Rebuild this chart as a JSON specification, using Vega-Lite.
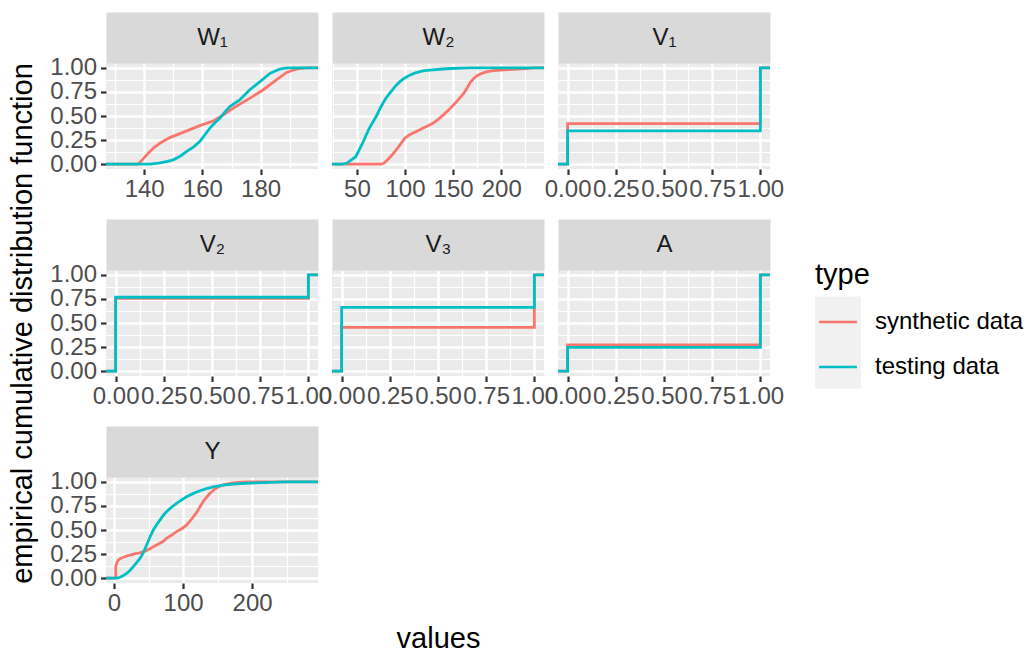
{
  "$schema": "https://vega.github.io/schema/vega-lite/v6.json",
  "background": "white",
  "padding": {"left": 8, "top": 25, "right": 0, "bottom": 0},
  "data": {"values": [
    {"v":"W1","t":"synthetic data","x":126.9,"y":0},{"v":"W1","t":"synthetic data","x":137.9,"y":0},{"v":"W1","t":"synthetic data","x":139.5,"y":0.05},{"v":"W1","t":"synthetic data","x":141.9,"y":0.13},{"v":"W1","t":"synthetic data","x":143.5,"y":0.175},{"v":"W1","t":"synthetic data","x":145.4,"y":0.217},{"v":"W1","t":"synthetic data","x":148.8,"y":0.276},{"v":"W1","t":"synthetic data","x":153.4,"y":0.33},{"v":"W1","t":"synthetic data","x":159.1,"y":0.4},{"v":"W1","t":"synthetic data","x":163.7,"y":0.448},{"v":"W1","t":"synthetic data","x":167.1,"y":0.51},{"v":"W1","t":"synthetic data","x":170.5,"y":0.58},{"v":"W1","t":"synthetic data","x":176.2,"y":0.683},{"v":"W1","t":"synthetic data","x":180.8,"y":0.77},{"v":"W1","t":"synthetic data","x":185.4,"y":0.876},{"v":"W1","t":"synthetic data","x":188.8,"y":0.95},{"v":"W1","t":"synthetic data","x":191,"y":0.975},{"v":"W1","t":"synthetic data","x":193.4,"y":0.993},{"v":"W1","t":"synthetic data","x":196,"y":1},{"v":"W1","t":"synthetic data","x":199.7,"y":1},
    {"v":"W1","t":"testing data","x":126.9,"y":0},{"v":"W1","t":"testing data","x":141.9,"y":0},{"v":"W1","t":"testing data","x":145,"y":0.01},{"v":"W1","t":"testing data","x":148,"y":0.03},{"v":"W1","t":"testing data","x":150,"y":0.045},{"v":"W1","t":"testing data","x":152.5,"y":0.085},{"v":"W1","t":"testing data","x":154.5,"y":0.13},{"v":"W1","t":"testing data","x":157,"y":0.18},{"v":"W1","t":"testing data","x":159.1,"y":0.235},{"v":"W1","t":"testing data","x":160.5,"y":0.29},{"v":"W1","t":"testing data","x":162.5,"y":0.372},{"v":"W1","t":"testing data","x":164.3,"y":0.43},{"v":"W1","t":"testing data","x":166,"y":0.476},{"v":"W1","t":"testing data","x":167.7,"y":0.54},{"v":"W1","t":"testing data","x":169.4,"y":0.597},{"v":"W1","t":"testing data","x":172.8,"y":0.666},{"v":"W1","t":"testing data","x":176.2,"y":0.77},{"v":"W1","t":"testing data","x":179.7,"y":0.855},{"v":"W1","t":"testing data","x":181.5,"y":0.9},{"v":"W1","t":"testing data","x":183.1,"y":0.94},{"v":"W1","t":"testing data","x":184.8,"y":0.965},{"v":"W1","t":"testing data","x":186.5,"y":0.986},{"v":"W1","t":"testing data","x":188.5,"y":0.996},{"v":"W1","t":"testing data","x":190,"y":1},{"v":"W1","t":"testing data","x":199.7,"y":1},
    {"v":"W2","t":"synthetic data","x":24.1,"y":0},{"v":"W2","t":"synthetic data","x":75.2,"y":0},{"v":"W2","t":"synthetic data","x":78,"y":0.01},{"v":"W2","t":"synthetic data","x":82.2,"y":0.048},{"v":"W2","t":"synthetic data","x":86.5,"y":0.095},{"v":"W2","t":"synthetic data","x":91,"y":0.15},{"v":"W2","t":"synthetic data","x":95.5,"y":0.21},{"v":"W2","t":"synthetic data","x":99.7,"y":0.27},{"v":"W2","t":"synthetic data","x":104,"y":0.3},{"v":"W2","t":"synthetic data","x":108.4,"y":0.323},{"v":"W2","t":"synthetic data","x":113.5,"y":0.348},{"v":"W2","t":"synthetic data","x":118.9,"y":0.375},{"v":"W2","t":"synthetic data","x":124,"y":0.4},{"v":"W2","t":"synthetic data","x":129.4,"y":0.426},{"v":"W2","t":"synthetic data","x":134.5,"y":0.465},{"v":"W2","t":"synthetic data","x":139.9,"y":0.512},{"v":"W2","t":"synthetic data","x":145,"y":0.56},{"v":"W2","t":"synthetic data","x":150.4,"y":0.615},{"v":"W2","t":"synthetic data","x":155.5,"y":0.67},{"v":"W2","t":"synthetic data","x":161,"y":0.735},{"v":"W2","t":"synthetic data","x":164.5,"y":0.79},{"v":"W2","t":"synthetic data","x":168,"y":0.85},{"v":"W2","t":"synthetic data","x":171.5,"y":0.89},{"v":"W2","t":"synthetic data","x":174.9,"y":0.918},{"v":"W2","t":"synthetic data","x":180,"y":0.943},{"v":"W2","t":"synthetic data","x":185.4,"y":0.96},{"v":"W2","t":"synthetic data","x":192,"y":0.97},{"v":"W2","t":"synthetic data","x":199.4,"y":0.976},{"v":"W2","t":"synthetic data","x":208,"y":0.982},{"v":"W2","t":"synthetic data","x":216.9,"y":0.986},{"v":"W2","t":"synthetic data","x":226,"y":0.992},{"v":"W2","t":"synthetic data","x":234.4,"y":1},{"v":"W2","t":"synthetic data","x":244.5,"y":1},
    {"v":"W2","t":"testing data","x":24.1,"y":0},{"v":"W2","t":"testing data","x":35,"y":0},{"v":"W2","t":"testing data","x":40,"y":0.012},{"v":"W2","t":"testing data","x":42,"y":0.03},{"v":"W2","t":"testing data","x":45,"y":0.05},{"v":"W2","t":"testing data","x":49,"y":0.08},{"v":"W2","t":"testing data","x":52.5,"y":0.15},{"v":"W2","t":"testing data","x":56,"y":0.22},{"v":"W2","t":"testing data","x":59.5,"y":0.3},{"v":"W2","t":"testing data","x":63,"y":0.375},{"v":"W2","t":"testing data","x":66.5,"y":0.435},{"v":"W2","t":"testing data","x":70,"y":0.495},{"v":"W2","t":"testing data","x":73.5,"y":0.565},{"v":"W2","t":"testing data","x":77,"y":0.632},{"v":"W2","t":"testing data","x":80.5,"y":0.69},{"v":"W2","t":"testing data","x":84,"y":0.735},{"v":"W2","t":"testing data","x":87.5,"y":0.78},{"v":"W2","t":"testing data","x":91,"y":0.82},{"v":"W2","t":"testing data","x":94.5,"y":0.855},{"v":"W2","t":"testing data","x":98,"y":0.883},{"v":"W2","t":"testing data","x":101.5,"y":0.905},{"v":"W2","t":"testing data","x":105,"y":0.924},{"v":"W2","t":"testing data","x":110,"y":0.945},{"v":"W2","t":"testing data","x":115.4,"y":0.96},{"v":"W2","t":"testing data","x":120,"y":0.97},{"v":"W2","t":"testing data","x":126,"y":0.976},{"v":"W2","t":"testing data","x":136,"y":0.985},{"v":"W2","t":"testing data","x":147,"y":0.993},{"v":"W2","t":"testing data","x":160,"y":0.997},{"v":"W2","t":"testing data","x":168,"y":1},{"v":"W2","t":"testing data","x":244.5,"y":1},
    {"v":"V1","t":"synthetic data","x":-0.05,"y":0},{"v":"V1","t":"synthetic data","x":0,"y":0.42},{"v":"V1","t":"synthetic data","x":1,"y":1},{"v":"V1","t":"synthetic data","x":1.05,"y":1},
    {"v":"V1","t":"testing data","x":-0.05,"y":0},{"v":"V1","t":"testing data","x":0,"y":0.345},{"v":"V1","t":"testing data","x":1,"y":1},{"v":"V1","t":"testing data","x":1.05,"y":1},
    {"v":"V2","t":"synthetic data","x":-0.05,"y":0},{"v":"V2","t":"synthetic data","x":0,"y":0.755},{"v":"V2","t":"synthetic data","x":1,"y":1},{"v":"V2","t":"synthetic data","x":1.05,"y":1},
    {"v":"V2","t":"testing data","x":-0.05,"y":0},{"v":"V2","t":"testing data","x":0,"y":0.767},{"v":"V2","t":"testing data","x":1,"y":1},{"v":"V2","t":"testing data","x":1.05,"y":1},
    {"v":"V3","t":"synthetic data","x":-0.05,"y":0},{"v":"V3","t":"synthetic data","x":0,"y":0.455},{"v":"V3","t":"synthetic data","x":1,"y":1},{"v":"V3","t":"synthetic data","x":1.05,"y":1},
    {"v":"V3","t":"testing data","x":-0.05,"y":0},{"v":"V3","t":"testing data","x":0,"y":0.662},{"v":"V3","t":"testing data","x":1,"y":1},{"v":"V3","t":"testing data","x":1.05,"y":1},
    {"v":"A","t":"synthetic data","x":-0.05,"y":0},{"v":"A","t":"synthetic data","x":0,"y":0.272},{"v":"A","t":"synthetic data","x":1,"y":1},{"v":"A","t":"synthetic data","x":1.05,"y":1},
    {"v":"A","t":"testing data","x":-0.05,"y":0},{"v":"A","t":"testing data","x":0,"y":0.248},{"v":"A","t":"testing data","x":1,"y":1},{"v":"A","t":"testing data","x":1.05,"y":1},
    {"v":"Y","t":"synthetic data","x":-11.6,"y":0},{"v":"Y","t":"synthetic data","x":2.4,"y":0},{"v":"Y","t":"synthetic data","x":2.5,"y":0.12},{"v":"Y","t":"synthetic data","x":4,"y":0.16},{"v":"Y","t":"synthetic data","x":6.3,"y":0.19},{"v":"Y","t":"synthetic data","x":9.5,"y":0.205},{"v":"Y","t":"synthetic data","x":13.5,"y":0.217},{"v":"Y","t":"synthetic data","x":18,"y":0.23},{"v":"Y","t":"synthetic data","x":23,"y":0.24},{"v":"Y","t":"synthetic data","x":30,"y":0.252},{"v":"Y","t":"synthetic data","x":37.6,"y":0.262},{"v":"Y","t":"synthetic data","x":45,"y":0.28},{"v":"Y","t":"synthetic data","x":52,"y":0.305},{"v":"Y","t":"synthetic data","x":59,"y":0.335},{"v":"Y","t":"synthetic data","x":66.5,"y":0.362},{"v":"Y","t":"synthetic data","x":72,"y":0.385},{"v":"Y","t":"synthetic data","x":76,"y":0.414},{"v":"Y","t":"synthetic data","x":83,"y":0.445},{"v":"Y","t":"synthetic data","x":90.6,"y":0.483},{"v":"Y","t":"synthetic data","x":98,"y":0.513},{"v":"Y","t":"synthetic data","x":105,"y":0.55},{"v":"Y","t":"synthetic data","x":112,"y":0.61},{"v":"Y","t":"synthetic data","x":119.5,"y":0.68},{"v":"Y","t":"synthetic data","x":124,"y":0.735},{"v":"Y","t":"synthetic data","x":129,"y":0.793},{"v":"Y","t":"synthetic data","x":134,"y":0.84},{"v":"Y","t":"synthetic data","x":138.8,"y":0.88},{"v":"Y","t":"synthetic data","x":146,"y":0.925},{"v":"Y","t":"synthetic data","x":153.3,"y":0.955},{"v":"Y","t":"synthetic data","x":162,"y":0.975},{"v":"Y","t":"synthetic data","x":172.5,"y":0.99},{"v":"Y","t":"synthetic data","x":185,"y":0.996},{"v":"Y","t":"synthetic data","x":196.6,"y":1},{"v":"Y","t":"synthetic data","x":295.4,"y":1},
    {"v":"Y","t":"testing data","x":-11.6,"y":0},{"v":"Y","t":"testing data","x":4,"y":0},{"v":"Y","t":"testing data","x":8.7,"y":0.01},{"v":"Y","t":"testing data","x":13,"y":0.025},{"v":"Y","t":"testing data","x":18.3,"y":0.05},{"v":"Y","t":"testing data","x":23,"y":0.08},{"v":"Y","t":"testing data","x":28,"y":0.12},{"v":"Y","t":"testing data","x":33,"y":0.165},{"v":"Y","t":"testing data","x":37.6,"y":0.205},{"v":"Y","t":"testing data","x":42.5,"y":0.265},{"v":"Y","t":"testing data","x":47.2,"y":0.345},{"v":"Y","t":"testing data","x":52,"y":0.425},{"v":"Y","t":"testing data","x":56.9,"y":0.5},{"v":"Y","t":"testing data","x":61.7,"y":0.555},{"v":"Y","t":"testing data","x":66.5,"y":0.603},{"v":"Y","t":"testing data","x":71,"y":0.648},{"v":"Y","t":"testing data","x":76,"y":0.69},{"v":"Y","t":"testing data","x":83,"y":0.735},{"v":"Y","t":"testing data","x":90.6,"y":0.776},{"v":"Y","t":"testing data","x":98,"y":0.812},{"v":"Y","t":"testing data","x":105,"y":0.845},{"v":"Y","t":"testing data","x":115,"y":0.88},{"v":"Y","t":"testing data","x":124.3,"y":0.907},{"v":"Y","t":"testing data","x":134,"y":0.93},{"v":"Y","t":"testing data","x":143.6,"y":0.948},{"v":"Y","t":"testing data","x":158,"y":0.965},{"v":"Y","t":"testing data","x":172.5,"y":0.976},{"v":"Y","t":"testing data","x":190,"y":0.985},{"v":"Y","t":"testing data","x":206,"y":0.99},{"v":"Y","t":"testing data","x":228,"y":0.995},{"v":"Y","t":"testing data","x":249.6,"y":1},{"v":"Y","t":"testing data","x":295.4,"y":1}
  ]},
  "columns": 3,
  "spacing": {"row": 101, "column": 14},
  "bounds": "flush",
  "concat": [
    {
      "width": 212, "height": 106,
      "transform": [{"filter": "datum.v === 'W1'"}],
      "layer": [
        {"mark": {"type": "line", "strokeWidth": 2.8, "clip": true},
         "encoding": {
           "x": {"field": "x", "type": "quantitative", "scale": {"domain": [126.9, 199.7], "nice": false, "zero": false},
                 "axis": {"title": null, "values": [130,140,150,160,170,180,190], "labelExpr": "datum.value % 20 === 0 ? datum.label : ''", "tickOpacity": {"condition": {"test": "datum.value % 20 === 0", "value": 1}, "value": 0}, "gridWidth": {"condition": {"test": "datum.value % 20 === 0", "value": 2.4}, "value": 1.2}}},
           "y": {"field": "y", "type": "quantitative", "scale": {"domain": [-0.05, 1.05], "nice": false},
                 "axis": {"title": null, "labelPadding": 4, "values": [0,0.125,0.25,0.375,0.5,0.625,0.75,0.875,1], "labelExpr": "(datum.value*4)%1===0 ? format(datum.value,'.2f') : ''", "tickOpacity": {"condition": {"test": "(datum.value*4)%1===0", "value": 1}, "value": 0}, "gridWidth": {"condition": {"test": "(datum.value*4)%1===0", "value": 2.4}, "value": 1.2}}},
           "color": {"field": "t", "type": "nominal", "scale": {"domain": ["synthetic data", "testing data"], "range": ["#F8766D", "#00BFC4"]},
                     "legend": {"title": "type", "symbolType": "M-0.88,0H0.88", "zindex": 2, "rowPadding": 10, "legendY": 198}}
         }},
        {"mark": {"type": "point", "opacity": 0},
         "encoding": {"x": {"field": "x", "type": "quantitative", "axis": {"orient": "top", "domain": true, "domainColor": "#D9D9D9", "domainWidth": 51, "domainCap": "butt", "offset": 25.5, "ticks": false, "labels": false, "grid": false, "title": "W₁", "titleFontSize": 24, "titleColor": "#1A1A1A", "titleBaseline": "middle", "titleY": 0}}}}
      ],
      "resolve": {"axis": {"x": "independent"}}
    },
    {
      "width": 212, "height": 106,
      "transform": [{"filter": "datum.v === 'W2'"}],
      "layer": [
        {"mark": {"type": "line", "strokeWidth": 2.8, "clip": true},
         "encoding": {
           "x": {"field": "x", "type": "quantitative", "scale": {"domain": [24.1, 244.5], "nice": false, "zero": false},
                 "axis": {"title": null, "values": [25,50,75,100,125,150,175,200,225], "labelExpr": "datum.value % 50 === 0 ? datum.label : ''", "tickOpacity": {"condition": {"test": "datum.value % 50 === 0", "value": 1}, "value": 0}, "gridWidth": {"condition": {"test": "datum.value % 50 === 0", "value": 2.4}, "value": 1.2}}},
           "y": {"field": "y", "type": "quantitative", "scale": {"domain": [-0.05, 1.05], "nice": false},
                 "axis": {"title": null, "ticks": false, "labels": false, "values": [0,0.125,0.25,0.375,0.5,0.625,0.75,0.875,1], "gridWidth": {"condition": {"test": "(datum.value*4)%1===0", "value": 2.4}, "value": 1.2}}},
           "color": {"field": "t", "type": "nominal", "scale": {"domain": ["synthetic data", "testing data"], "range": ["#F8766D", "#00BFC4"]}}
         }},
        {"mark": {"type": "point", "opacity": 0},
         "encoding": {"x": {"field": "x", "type": "quantitative", "axis": {"orient": "top", "domain": true, "domainColor": "#D9D9D9", "domainWidth": 51, "domainCap": "butt", "offset": 25.5, "ticks": false, "labels": false, "grid": false, "title": "W₂", "titleFontSize": 24, "titleColor": "#1A1A1A", "titleBaseline": "middle", "titleY": 0}}}}
      ],
      "resolve": {"axis": {"x": "independent"}}
    },
    {
      "width": 212, "height": 106,
      "transform": [{"filter": "datum.v === 'V1'"}],
      "layer": [
        {"mark": {"type": "line", "strokeWidth": 2.8, "clip": true, "interpolate": "step-after"},
         "encoding": {
           "x": {"field": "x", "type": "quantitative", "scale": {"domain": [-0.05, 1.05], "nice": false, "zero": false},
                 "axis": {"title": null, "values": [0,0.125,0.25,0.375,0.5,0.625,0.75,0.875,1], "labelExpr": "(datum.value*4)%1===0 ? format(datum.value,'.2f') : ''", "tickOpacity": {"condition": {"test": "(datum.value*4)%1===0", "value": 1}, "value": 0}, "gridWidth": {"condition": {"test": "(datum.value*4)%1===0", "value": 2.4}, "value": 1.2}}},
           "y": {"field": "y", "type": "quantitative", "scale": {"domain": [-0.05, 1.05], "nice": false},
                 "axis": {"title": null, "ticks": false, "labels": false, "values": [0,0.125,0.25,0.375,0.5,0.625,0.75,0.875,1], "gridWidth": {"condition": {"test": "(datum.value*4)%1===0", "value": 2.4}, "value": 1.2}}},
           "color": {"field": "t", "type": "nominal", "scale": {"domain": ["synthetic data", "testing data"], "range": ["#F8766D", "#00BFC4"]}}
         }},
        {"mark": {"type": "point", "opacity": 0},
         "encoding": {"x": {"field": "x", "type": "quantitative", "axis": {"orient": "top", "domain": true, "domainColor": "#D9D9D9", "domainWidth": 51, "domainCap": "butt", "offset": 25.5, "ticks": false, "labels": false, "grid": false, "title": "V₁", "titleFontSize": 24, "titleColor": "#1A1A1A", "titleBaseline": "middle", "titleY": 0}}}}
      ],
      "resolve": {"axis": {"x": "independent"}}
    },
    {
      "width": 212, "height": 106,
      "transform": [{"filter": "datum.v === 'V2'"}],
      "layer": [
        {"mark": {"type": "line", "strokeWidth": 2.8, "clip": true, "interpolate": "step-after"},
         "encoding": {
           "x": {"field": "x", "type": "quantitative", "scale": {"domain": [-0.05, 1.05], "nice": false, "zero": false},
                 "axis": {"title": null, "values": [0,0.125,0.25,0.375,0.5,0.625,0.75,0.875,1], "labelExpr": "(datum.value*4)%1===0 ? format(datum.value,'.2f') : ''", "tickOpacity": {"condition": {"test": "(datum.value*4)%1===0", "value": 1}, "value": 0}, "gridWidth": {"condition": {"test": "(datum.value*4)%1===0", "value": 2.4}, "value": 1.2}}},
           "y": {"field": "y", "type": "quantitative", "scale": {"domain": [-0.05, 1.05], "nice": false},
                 "axis": {"title": "empirical cumulative distribution function", "titlePadding": 12, "labelPadding": 4, "values": [0,0.125,0.25,0.375,0.5,0.625,0.75,0.875,1], "labelExpr": "(datum.value*4)%1===0 ? format(datum.value,'.2f') : ''", "tickOpacity": {"condition": {"test": "(datum.value*4)%1===0", "value": 1}, "value": 0}, "gridWidth": {"condition": {"test": "(datum.value*4)%1===0", "value": 2.4}, "value": 1.2}}},
           "color": {"field": "t", "type": "nominal", "scale": {"domain": ["synthetic data", "testing data"], "range": ["#F8766D", "#00BFC4"]}}
         }},
        {"mark": {"type": "point", "opacity": 0},
         "encoding": {"x": {"field": "x", "type": "quantitative", "axis": {"orient": "top", "domain": true, "domainColor": "#D9D9D9", "domainWidth": 51, "domainCap": "butt", "offset": 25.5, "ticks": false, "labels": false, "grid": false, "title": "V₂", "titleFontSize": 24, "titleColor": "#1A1A1A", "titleBaseline": "middle", "titleY": 0}}}}
      ],
      "resolve": {"axis": {"x": "independent"}}
    },
    {
      "width": 212, "height": 106,
      "transform": [{"filter": "datum.v === 'V3'"}],
      "layer": [
        {"mark": {"type": "line", "strokeWidth": 2.8, "clip": true, "interpolate": "step-after"},
         "encoding": {
           "x": {"field": "x", "type": "quantitative", "scale": {"domain": [-0.05, 1.05], "nice": false, "zero": false},
                 "axis": {"title": null, "values": [0,0.125,0.25,0.375,0.5,0.625,0.75,0.875,1], "labelExpr": "(datum.value*4)%1===0 ? format(datum.value,'.2f') : ''", "tickOpacity": {"condition": {"test": "(datum.value*4)%1===0", "value": 1}, "value": 0}, "gridWidth": {"condition": {"test": "(datum.value*4)%1===0", "value": 2.4}, "value": 1.2}}},
           "y": {"field": "y", "type": "quantitative", "scale": {"domain": [-0.05, 1.05], "nice": false},
                 "axis": {"title": null, "ticks": false, "labels": false, "values": [0,0.125,0.25,0.375,0.5,0.625,0.75,0.875,1], "gridWidth": {"condition": {"test": "(datum.value*4)%1===0", "value": 2.4}, "value": 1.2}}},
           "color": {"field": "t", "type": "nominal", "scale": {"domain": ["synthetic data", "testing data"], "range": ["#F8766D", "#00BFC4"]}}
         }},
        {"mark": {"type": "point", "opacity": 0},
         "encoding": {"x": {"field": "x", "type": "quantitative", "axis": {"orient": "top", "domain": true, "domainColor": "#D9D9D9", "domainWidth": 51, "domainCap": "butt", "offset": 25.5, "ticks": false, "labels": false, "grid": false, "title": "V₃", "titleFontSize": 24, "titleColor": "#1A1A1A", "titleBaseline": "middle", "titleY": 0}}}}
      ],
      "resolve": {"axis": {"x": "independent"}}
    },
    {
      "width": 212, "height": 106,
      "transform": [{"filter": "datum.v === 'A'"}],
      "layer": [
        {"mark": {"type": "line", "strokeWidth": 2.8, "clip": true, "interpolate": "step-after"},
         "encoding": {
           "x": {"field": "x", "type": "quantitative", "scale": {"domain": [-0.05, 1.05], "nice": false, "zero": false},
                 "axis": {"title": null, "values": [0,0.125,0.25,0.375,0.5,0.625,0.75,0.875,1], "labelExpr": "(datum.value*4)%1===0 ? format(datum.value,'.2f') : ''", "tickOpacity": {"condition": {"test": "(datum.value*4)%1===0", "value": 1}, "value": 0}, "gridWidth": {"condition": {"test": "(datum.value*4)%1===0", "value": 2.4}, "value": 1.2}}},
           "y": {"field": "y", "type": "quantitative", "scale": {"domain": [-0.05, 1.05], "nice": false},
                 "axis": {"title": null, "ticks": false, "labels": false, "values": [0,0.125,0.25,0.375,0.5,0.625,0.75,0.875,1], "gridWidth": {"condition": {"test": "(datum.value*4)%1===0", "value": 2.4}, "value": 1.2}}},
           "color": {"field": "t", "type": "nominal", "scale": {"domain": ["synthetic data", "testing data"], "range": ["#F8766D", "#00BFC4"]}}
         }},
        {"mark": {"type": "point", "opacity": 0},
         "encoding": {"x": {"field": "x", "type": "quantitative", "axis": {"orient": "top", "domain": true, "domainColor": "#D9D9D9", "domainWidth": 51, "domainCap": "butt", "offset": 25.5, "ticks": false, "labels": false, "grid": false, "title": "A", "titleFontSize": 24, "titleColor": "#1A1A1A", "titleBaseline": "middle", "titleY": 0}}}}
      ],
      "resolve": {"axis": {"x": "independent"}}
    },
    {
      "width": 212, "height": 106,
      "transform": [{"filter": "datum.v === 'Y'"}],
      "layer": [
        {"mark": {"type": "line", "strokeWidth": 2.8, "clip": true},
         "encoding": {
           "x": {"field": "x", "type": "quantitative", "scale": {"domain": [-11.6, 295.4], "nice": false, "zero": false},
                 "axis": {"title": null, "values": [0,50,100,150,200,250], "labelExpr": "datum.value % 100 === 0 ? datum.label : ''", "tickOpacity": {"condition": {"test": "datum.value % 100 === 0", "value": 1}, "value": 0}, "gridWidth": {"condition": {"test": "datum.value % 100 === 0", "value": 2.4}, "value": 1.2}}},
           "y": {"field": "y", "type": "quantitative", "scale": {"domain": [-0.05, 1.05], "nice": false},
                 "axis": {"title": null, "labelPadding": 4, "values": [0,0.125,0.25,0.375,0.5,0.625,0.75,0.875,1], "labelExpr": "(datum.value*4)%1===0 ? format(datum.value,'.2f') : ''", "tickOpacity": {"condition": {"test": "(datum.value*4)%1===0", "value": 1}, "value": 0}, "gridWidth": {"condition": {"test": "(datum.value*4)%1===0", "value": 2.4}, "value": 1.2}}},
           "color": {"field": "t", "type": "nominal", "scale": {"domain": ["synthetic data", "testing data"], "range": ["#F8766D", "#00BFC4"]}}
         }},
        {"mark": {"type": "point", "opacity": 0},
         "encoding": {"x": {"field": "x", "type": "quantitative", "axis": {"orient": "top", "domain": true, "domainColor": "#D9D9D9", "domainWidth": 51, "domainCap": "butt", "offset": 25.5, "ticks": false, "labels": false, "grid": false, "title": "Y", "titleFontSize": 24, "titleColor": "#1A1A1A", "titleBaseline": "middle", "titleY": 0}}}}
      ],
      "resolve": {"axis": {"x": "independent"}}
    },
    {
      "width": 212, "height": 106,
      "view": {"fill": null, "stroke": null},
      "transform": [{"filter": "false"}],
      "mark": {"type": "point", "filled": true, "color": "#EBEBEB"},
      "encoding": {
        "x": {"field": "x", "type": "quantitative", "scale": {"domain": [0, 1]},
              "axis": {"title": "values", "titlePadding": 41, "grid": false, "ticks": false, "labels": false, "domain": false}},
        "shape": {"field": "t", "type": "nominal", "scale": {"domain": ["a"], "range": ["M-1,-2H1V2H-1Z"]},
                  "legend": {"title": "type", "titleColor": "transparent", "labelColor": "transparent", "symbolFillColor": "#EBEBEB", "symbolStrokeColor": "#EBEBEB", "symbolStrokeWidth": 0, "symbolSize": 2116, "zindex": 1, "legendY": 218.5}}
      }
    }
  ],
  "config": {
    "font": "Liberation Sans",
    "view": {"stroke": null, "fill": "#EBEBEB"},
    "axis": {"domain": false, "tickColor": "#333333", "tickWidth": 2.2, "tickSize": 5.5, "labelColor": "#4D4D4D", "labelFontSize": 24, "labelPadding": 3, "gridColor": "#FFFFFF", "labelFlush": false, "labelOverlap": false, "titleFontWeight": "normal", "titleColor": "#000000", "titleFontSize": 29},
    "legend": {"orient": "none", "legendX": 709, "legendY": 198, "padding": 0, "titleFontSize": 29, "titleFontWeight": "normal", "titleColor": "#000000", "titlePadding": 9, "labelFontSize": 24, "labelColor": "#000000", "labelOffset": 14, "symbolSize": 1849, "rowPadding": 0, "symbolStrokeWidth": 2.6}
  }
}
